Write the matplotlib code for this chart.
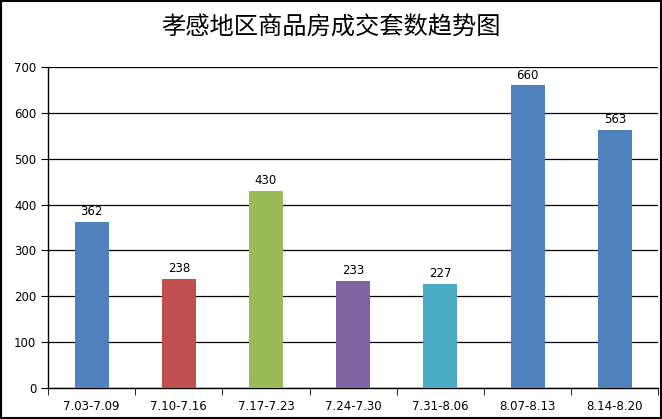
import matplotlib.pyplot as plt
from matplotlib.patches import Rectangle
import numpy as np

plt.rcParams['font.family'] = ['DejaVu Sans', 'Noto Sans CJK SC']

weeks = ['7.03-7.09', '7.10-7.16', '7.17-7.23', '7.24-7.30',
         '7.31-8.06', '8.07-8.13', '8.14-8.20']
sales = [362, 238, 430, 233, 227, 660, 563]
colors = ['#4F81BD', '#C0504D', '#9BBB59', '#8064A2', '#4BACC6', '#4F81BD', '#4F81BD']

fig = plt.figure(figsize=(6.62, 4.19), dpi=100)
ax = fig.add_axes([0.0725, 0.074, 0.922, 0.766])

x = np.arange(len(weeks))
ax.bar(x, sales, width=0.39, color=colors, zorder=3)
for xi, v in zip(x, sales):
    ax.text(xi, v + 8, str(v), ha='center', va='bottom', fontsize=8.5, zorder=4)

ax.set_xlim(-0.5, len(weeks) - 0.5)
ax.set_ylim(0, 700)
ax.set_yticks(range(0, 701, 100))
ax.yaxis.grid(True, color='black', linewidth=0.9, zorder=0)
ax.set_xticks(x)
ax.set_xticklabels(weeks, fontsize=8.5)
ax.set_xticks(np.arange(-0.5, len(weeks)), minor=True)
ax.tick_params(axis='x', which='major', length=0, pad=9)
ax.tick_params(axis='x', which='minor', length=5, direction='out')
ax.tick_params(axis='y', length=5, labelsize=8.5)
for s in ['top', 'right']:
    ax.spines[s].set_visible(False)
ax.spines['left'].set_linewidth(1)
ax.spines['bottom'].set_linewidth(1)

fig.suptitle('孝感地区商品房成交套数趋势图', y=0.965, fontsize=17.5,
             fontweight='normal', family=['Noto Sans CJK SC'])
fig.patches.append(Rectangle((0.001, 0.002), 0.997, 0.996, transform=fig.transFigure,
                             fill=False, edgecolor='black', linewidth=1.5))

fig.savefig('out.png', dpi=100)
